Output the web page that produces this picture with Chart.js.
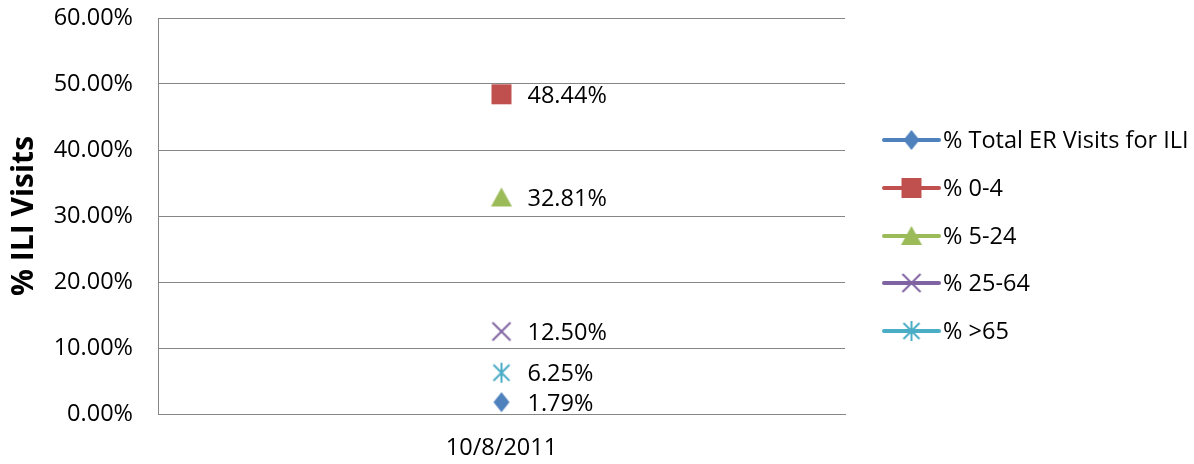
<!DOCTYPE html>
<html>
<head>
<meta charset="utf-8">
<script src="https://cdn.jsdelivr.net/npm/chart.js@4/dist/chart.umd.min.js"></script>
<style>
  html, body { margin: 0; padding: 0; background: #fff; }
  #wrap { width: 1194px; height: 464px; }
</style>
</head>
<body>
<div id="wrap"><canvas id="c" width="1194" height="464"></canvas></div>
<script>
const categories = ['10/8/2011'];
const seriesNames = ['% Total ER Visits for ILI', '% 0-4', '% 5-24', '% 25-64', '% >65'];
const totalER = [1.79];
const age0to4 = [48.44];
const age5to24 = [32.81];
const age25to64 = [12.50];
const age65plus = [6.25];
const yTicks = [0, 10, 20, 30, 40, 50, 60];

const colors = ['#4F81BD', '#C0504D', '#9BBB59', '#8064A2', '#4BACC6'];
const FONT = "'Open Sans', 'Liberation Sans', sans-serif";
const FS = 23.5;

function makeMarker(type, color) {
  const c = document.createElement('canvas');
  c.width = 24; c.height = 24;
  const g = c.getContext('2d');
  const cx = 12, cy = 12;
  g.fillStyle = color; g.strokeStyle = color;
  if (type === 'diamond') {
    g.beginPath();
    g.moveTo(cx, cy - 10); g.lineTo(cx + 8, cy); g.lineTo(cx, cy + 10); g.lineTo(cx - 8, cy);
    g.closePath(); g.fill();
  } else if (type === 'square') {
    g.fillRect(cx - 10, cy - 10, 20, 20);
  } else if (type === 'triangle') {
    g.beginPath();
    g.moveTo(cx, cy - 10); g.lineTo(cx + 10.5, cy + 9); g.lineTo(cx - 10.5, cy + 9);
    g.closePath(); g.fill();
  } else if (type === 'x') {
    g.lineWidth = 2;
    g.beginPath();
    g.moveTo(cx - 9, cy - 9); g.lineTo(cx + 9, cy + 9);
    g.moveTo(cx + 9, cy - 9); g.lineTo(cx - 9, cy + 9);
    g.stroke();
  } else if (type === 'star') {
    g.lineWidth = 2;
    g.beginPath();
    g.moveTo(cx - 8, cy - 8); g.lineTo(cx + 8, cy + 8);
    g.moveTo(cx + 8, cy - 8); g.lineTo(cx - 8, cy + 8);
    g.moveTo(cx, cy - 10); g.lineTo(cx, cy + 10);
    g.stroke();
  }
  return c;
}
const markerTypes = ['diamond', 'square', 'triangle', 'x', 'star'];
const markers = markerTypes.map((t, i) => makeMarker(t, colors[i]));

const seriesData = [totalER, age0to4, age5to24, age25to64, age65plus];

const dataLabelPlugin = {
  id: 'dataLabels',
  afterDatasetsDraw(chart) {
    const ctx = chart.ctx;
    ctx.save();
    ctx.font = FS + 'px ' + FONT;
    ctx.fillStyle = '#000';
    ctx.textAlign = 'left';
    ctx.textBaseline = 'middle';
    chart.data.datasets.forEach((ds, i) => {
      const meta = chart.getDatasetMeta(i);
      meta.data.forEach((pt, j) => {
        ctx.fillText(ds.data[j].toFixed(2) + '%', pt.x + 26, pt.y + 2);
      });
    });
    ctx.restore();
  }
};

const legendPlugin = {
  id: 'customLegend',
  afterDraw(chart) {
    const ctx = chart.ctx;
    ctx.save();
    const x0 = 884, x1 = 939, tx = 943;
    const ys = [140, 188, 236, 283, 331];
    chart.data.datasets.forEach((ds, i) => {
      const y = ys[i];
      ctx.strokeStyle = ds.borderColor;
      ctx.lineWidth = 4;
      ctx.lineCap = 'round';
      ctx.beginPath(); ctx.moveTo(x0, y); ctx.lineTo(x1, y); ctx.stroke();
      const m = ds.pointStyle;
      ctx.drawImage(m, (x0 + x1) / 2 - m.width / 2, y - m.height / 2);
      ctx.font = FS + 'px ' + FONT;
      ctx.fillStyle = '#000';
      ctx.textAlign = 'left';
      ctx.textBaseline = 'middle';
      ctx.fillText(ds.label, tx, y + 1);
    });
    ctx.restore();
  }
};

new Chart(document.getElementById('c'), {
  type: 'line',
  data: {
    labels: categories,
    datasets: seriesNames.map((name, i) => ({
      label: name,
      data: seriesData[i],
      borderColor: colors[i],
      backgroundColor: colors[i],
      borderWidth: 4,
      showLine: false,
      pointStyle: markers[i],
      pointRadius: 10
    }))
  },
  options: {
    responsive: false,
    animation: false,
    events: [],
    layout: { padding: { left: 0, right: 349, top: 18, bottom: 6 } },
    plugins: { legend: { display: false }, tooltip: { enabled: false } },
    scales: {
      x: {
        type: 'category',
        offset: true,
        grid: { display: false },
        border: { display: true, color: '#868686', width: 1 },
        afterFit(scale) { scale.height = 44; scale.paddingLeft = 0; scale.paddingRight = 0; },
        ticks: { color: '#000', font: { family: FONT, size: FS }, padding: 12 }
      },
      y: {
        min: 0, max: 60,
        afterBuildTicks(scale) { scale.ticks = yTicks.map(v => ({ value: v })); },
        afterFit(scale) { scale.width = 158; scale.paddingTop = 0; scale.paddingBottom = 0; },
        grid: { color: '#868686', lineWidth: 1, drawTicks: false },
        border: { display: true, color: '#868686', width: 1 },
        ticks: {
          color: '#000', font: { family: FONT, size: FS }, padding: 25,
          callback: v => v.toFixed(2) + '%'
        },
        title: {
          display: true, text: '% ILI Visits', color: '#000',
          font: { family: FONT, size: 30, weight: 'bold' },
          padding: { top: 6.5, bottom: 0 }
        }
      }
    }
  },
  plugins: [dataLabelPlugin, legendPlugin]
});
</script>
</body>
</html>
